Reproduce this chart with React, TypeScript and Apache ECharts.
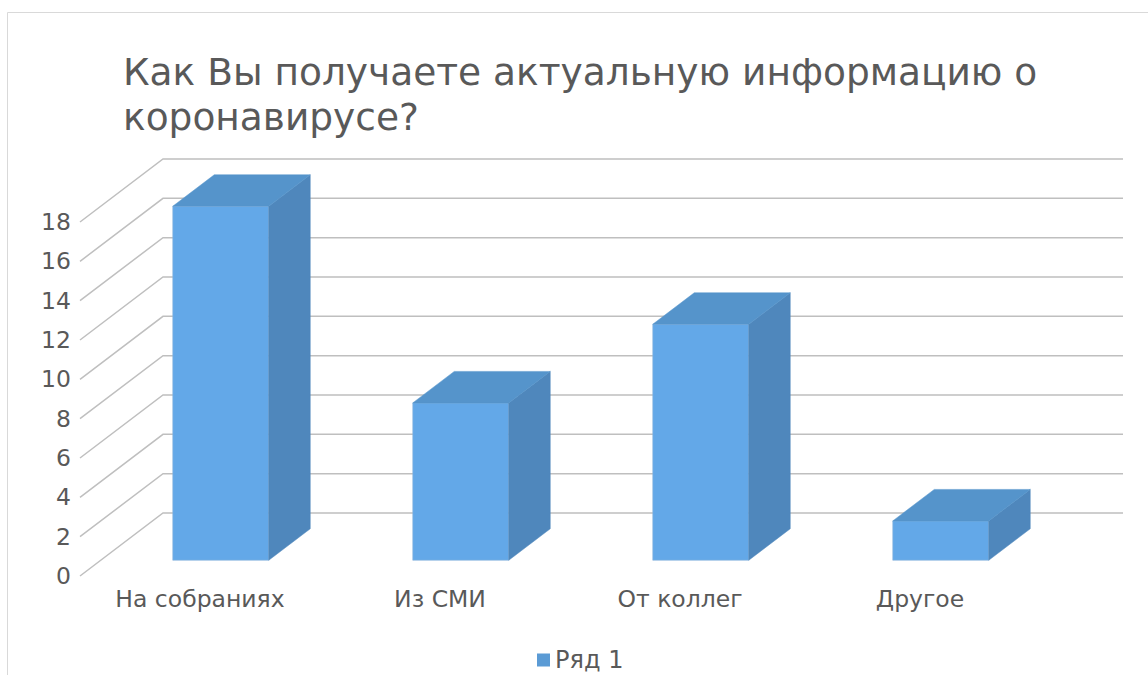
import React, { useEffect, useRef } from "react";
import * as echarts from "echarts";

const TITLE = "Как Вы получаете актуальную информацию о\nкоронавирусе?";
const categories = ["На собраниях", "Из СМИ", "От коллег", "Другое"];
const values = [18, 8, 12, 2];
const seriesName = "Ряд 1";
const yTicks = [0, 2, 4, 6, 8, 10, 12, 14, 16, 18];

const DX = 83;
const DY = -63;
const FONT = "DejaVu Sans";
const TEXT = "#595959";

export default function App() {
  const ref = useRef<HTMLDivElement>(null);
  useEffect(() => {
    if (!ref.current) return;
    const chart = echarts.init(ref.current, null, { renderer: "svg" });
    const option: any = {
      animation: false,
      backgroundColor: "#ffffff",
      title: {
        text: TITLE,
        left: 123,
        top: 49,
        padding: 0,
        textStyle: {
          fontFamily: FONT,
          fontSize: 37.5,
          fontWeight: "normal",
          color: TEXT,
          lineHeight: 45,
        },
      },
      graphic: [
        {
          type: "rect",
          shape: { x: 7.5, y: 12.5, width: 1160, height: 700 },
          style: { fill: "none", stroke: "#d9d9d9", lineWidth: 1 },
          silent: true,
          z: -10,
        },
      ],
      legend: {
        data: [seriesName],
        left: 537,
        top: 648,
        padding: 0,
        icon: "rect",
        itemWidth: 13,
        itemHeight: 13,
        itemGap: 10,
        textStyle: { fontFamily: FONT, fontSize: 24, color: TEXT },
      },
      grid: { left: 80, width: 960, top: 222, height: 354 },
      xAxis: {
        type: "category",
        data: categories,
        axisLine: { show: false },
        axisTick: { show: false },
        splitLine: { show: false },
        axisLabel: { fontFamily: FONT, fontSize: 23.5, color: TEXT, margin: 11 },
      },
      yAxis: {
        type: "value",
        min: 0,
        max: 18,
        interval: 2,
        axisLine: { show: false },
        axisTick: { show: false },
        splitLine: { show: false },
        axisLabel: { fontFamily: FONT, fontSize: 23.5, color: TEXT, margin: 9 },
      },
      series: [
        {
          type: "custom",
          name: "grid3d",
          silent: true,
          z: 1,
          encode: { x: 0, y: 1 },
          data: yTicks.map((v) => [0, v]),
          renderItem: (params: any, api: any) => {
            const v = api.value(1);
            const p = api.coord([0, v]);
            const band = api.size([1, 0])[0];
            const left = p[0] - band / 2;
            const right = api.coord([categories.length - 1, v])[0] + band / 2;
            return {
              type: "polyline",
              shape: {
                points: [
                  [left, p[1]],
                  [left + DX, p[1] + DY],
                  [right + DX, p[1] + DY],
                ],
              },
              style: { fill: "none", stroke: "#bfbfbf", lineWidth: 1.5 },
            };
          },
        },
        {
          type: "custom",
          name: seriesName,
          z: 2,
          itemStyle: { color: "#5b9bd5" },
          encode: { x: 0, y: 1 },
          data: categories.map((c, i) => [i, values[i]]),
          renderItem: (params: any, api: any) => {
            const i = api.value(0);
            const v = api.value(1);
            const base = api.coord([i, 0]);
            const topP = api.coord([i, v]);
            const band = api.size([1, 0])[0];
            const bw = band * 0.4;
            const sx = DX * 0.25;
            const sy = DY * 0.25;
            const ddx = DX * 0.5;
            const ddy = DY * 0.5;
            const x0 = base[0] - bw / 2 + sx;
            const x1 = x0 + bw;
            const yb = base[1] + sy;
            const yt = topP[1] + sy;
            return {
              type: "group",
              children: [
                {
                  type: "rect",
                  shape: { x: x0, y: yt, width: bw, height: yb - yt },
                  style: { fill: "#63a8e8", stroke: "#8fb6dc", lineWidth: 0.6 },
                },
                {
                  type: "polygon",
                  shape: {
                    points: [
                      [x1, yt],
                      [x1 + ddx, yt + ddy],
                      [x1 + ddx, yb + ddy],
                      [x1, yb],
                    ],
                  },
                  style: { fill: "#4f87bc", stroke: "#4f87bc", lineWidth: 0.5 },
                },
                {
                  type: "polygon",
                  shape: {
                    points: [
                      [x0, yt],
                      [x0 + ddx, yt + ddy],
                      [x1 + ddx, yt + ddy],
                      [x1, yt],
                    ],
                  },
                  style: { fill: "#5594cb", stroke: "#5594cb", lineWidth: 0.5 },
                },
              ],
            };
          },
        },
      ],
    };
    chart.setOption(option);
    return () => chart.dispose();
  }, []);
  return (
    <div
      ref={ref}
      style={{ position: "fixed", left: 0, top: 0, width: 1148, height: 675 }}
    />
  );
}
